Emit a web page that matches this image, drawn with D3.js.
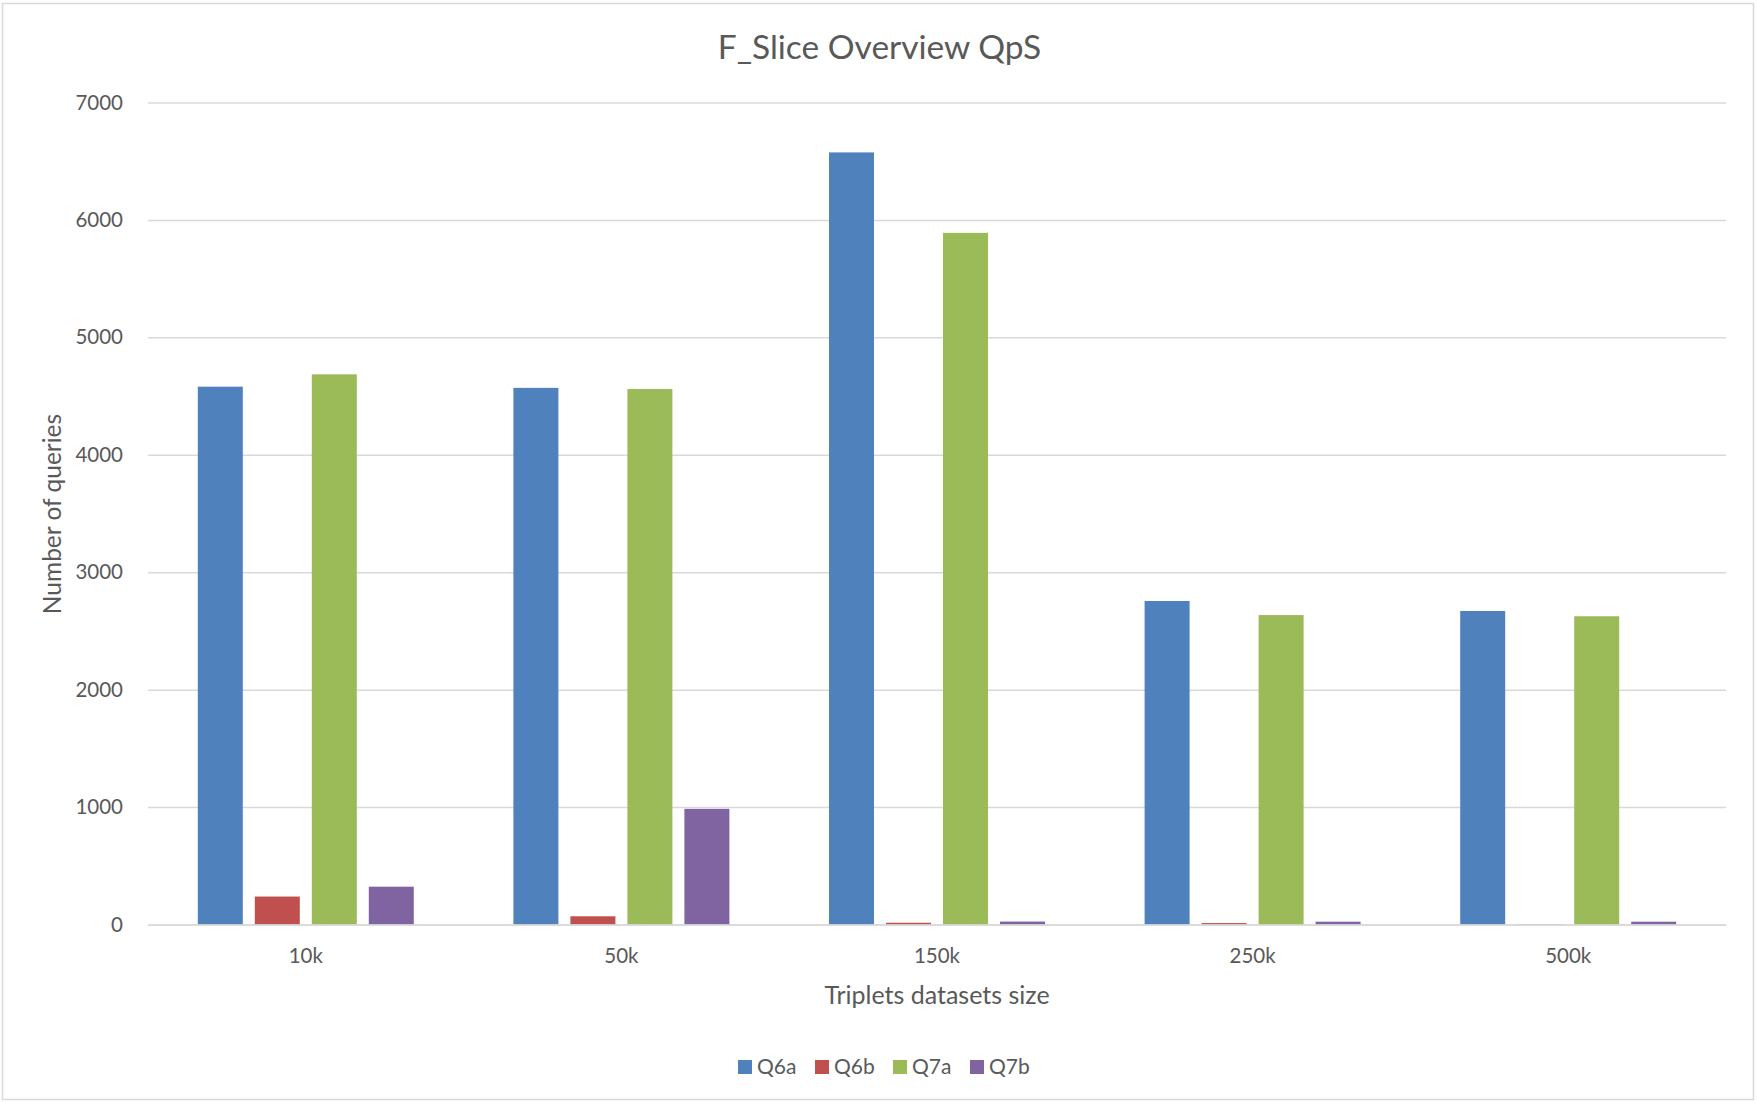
<!DOCTYPE html>
<html>
<head>
<meta charset="utf-8">
<script src="https://cdn.jsdelivr.net/npm/d3@7"></script>
<style>
  html, body { margin: 0; padding: 0; background: #fff; }
  svg { display: block; }
  text { font-family: Lato, "Open Sans", sans-serif; fill: #595959; }
</style>
</head>
<body>
<script>
const categories = ["10k", "50k", "150k", "250k", "500k"];
const seriesNames = ["Q6a", "Q6b", "Q7a", "Q7b"];
const q6a = [4580, 4570, 6575, 2755, 2670];
const q6b = [238, 70, 15, 12, 3];
const q7a = [4685, 4560, 5890, 2635, 2625];
const q7b = [322, 985, 25, 24, 24];
const yTicks = [0, 1000, 2000, 3000, 4000, 5000, 6000, 7000];
const colors = ["#4F81BD", "#C0504D", "#9BBB59", "#8064A2"];
const titleText = "F_Slice Overview QpS";
const xTitle = "Triplets datasets size";
const yTitle = "Number of queries";

const seriesValues = [q6a, q6b, q7a, q7b];

const W = 1757, H = 1103;
const plot = { left: 148, right: 1726, top: 102.5, bottom: 924.5 };

const svg = d3.select("body").append("svg").attr("width", W).attr("height", H);

// chart frame
svg.append("rect")
  .attr("x", 2.5).attr("y", 3.5).attr("width", 1751).attr("height", 1096)
  .attr("fill", "#fff").attr("stroke", "#d9d9d9").attr("stroke-width", 1.5);

const x0 = d3.scaleBand().domain(categories).range([plot.left, plot.right])
  .paddingInner(0.3156).paddingOuter(0.1578);
const x1 = d3.scaleBand().domain(seriesNames).range([0, x0.bandwidth()])
  .paddingInner(0.2105).paddingOuter(0);
const y = d3.scaleLinear().domain([0, 7000]).range([plot.bottom, plot.top]);
const color = d3.scaleOrdinal().domain(seriesNames).range(colors);

// gridlines
const yAxis = d3.axisLeft(y).tickValues(yTicks).tickFormat(d3.format("d"))
  .tickSize(-(plot.right - plot.left)).tickPadding(25);
const gy = svg.append("g").attr("transform", `translate(${plot.left},0)`).call(yAxis);
gy.select(".domain").remove();
gy.selectAll(".tick line").attr("stroke", "#d9d9d9").attr("stroke-width", 1.5);
gy.selectAll(".tick text").attr("font-size", "20.5px").attr("fill", "#595959")
  .style("font-family", "Lato, sans-serif");

// bars
const rows = categories.map((c, i) => ({ cat: c, vals: seriesNames.map((s, j) => ({ s, v: seriesValues[j][i] })) }));
const groups = svg.append("g").selectAll("g").data(rows).join("g")
  .attr("transform", d => `translate(${x0(d.cat)},0)`);
groups.selectAll("rect").data(d => d.vals).join("rect")
  .attr("x", d => x1(d.s))
  .attr("width", x1.bandwidth())
  .attr("y", d => y(d.v))
  .attr("height", d => y(0) - y(d.v))
  .attr("fill", d => color(d.s));

// x axis
const xAxis = d3.axisBottom(x0).tickSize(0).tickPadding(24);
const gx = svg.append("g").attr("transform", `translate(0,${plot.bottom})`).call(xAxis);
gx.select(".domain").attr("stroke", "#d9d9d9").attr("stroke-width", 1.5);
gx.selectAll(".tick text").attr("font-size", "20.5px").attr("fill", "#595959")
  .style("font-family", "Lato, sans-serif");

// title
svg.append("text").attr("x", 879.5).attr("y", 58.5).attr("text-anchor", "middle")
  .attr("font-size", "33.5px").text(titleText);

// axis titles
svg.append("text").attr("x", 937).attr("y", 1004).attr("text-anchor", "middle")
  .attr("font-size", "25px").text(xTitle);
svg.append("text").attr("transform", "translate(61,514) rotate(-90)").attr("text-anchor", "middle")
  .attr("font-size", "24.5px").text(yTitle);

// legend
const legend = svg.append("g");
const legendX = [738, 815, 893, 970];
seriesNames.forEach((s, i) => {
  const g = legend.append("g").attr("transform", `translate(${legendX[i]},1060)`);
  g.append("rect").attr("width", 14).attr("height", 14).attr("fill", color(s));
  g.append("text").attr("x", 19).attr("y", 14).attr("font-size", "21px").text(s);
});
</script>
</body>
</html>
